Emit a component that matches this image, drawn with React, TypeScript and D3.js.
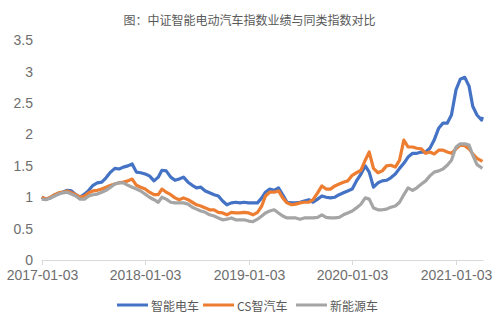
import React from "react";
import * as d3 from "d3";

const dates: string[] = [
  "2017-01-03","2017-01-18","2017-02-03","2017-02-18","2017-03-03","2017-03-18","2017-04-03","2017-04-18","2017-05-03","2017-05-18","2017-06-03","2017-06-18",
  "2017-07-03","2017-07-18","2017-08-03","2017-08-18","2017-09-03","2017-09-18","2017-10-03","2017-10-18","2017-11-03","2017-11-18","2017-12-03","2017-12-18",
  "2018-01-03","2018-01-18","2018-02-03","2018-02-18","2018-03-03","2018-03-18","2018-04-03","2018-04-18","2018-05-03","2018-05-18","2018-06-03","2018-06-18",
  "2018-07-03","2018-07-18","2018-08-03","2018-08-18","2018-09-03","2018-09-18","2018-10-03","2018-10-18","2018-11-03","2018-11-18","2018-12-03","2018-12-18",
  "2019-01-03","2019-01-18","2019-02-03","2019-02-18","2019-03-03","2019-03-18","2019-04-03","2019-04-18","2019-05-03","2019-05-18","2019-06-03","2019-06-18",
  "2019-07-03","2019-07-18","2019-08-03","2019-08-18","2019-09-03","2019-09-18","2019-10-03","2019-10-18","2019-11-03","2019-11-18","2019-12-03","2019-12-18",
  "2020-01-03","2020-01-18","2020-02-03","2020-02-18","2020-03-03","2020-03-18","2020-04-03","2020-04-18","2020-05-03","2020-05-18","2020-06-03","2020-06-18",
  "2020-07-03","2020-07-18","2020-08-03","2020-08-18","2020-09-03","2020-09-18","2020-10-03","2020-10-18","2020-11-03","2020-11-18","2020-12-03","2020-12-18",
  "2021-01-03","2021-01-18","2021-02-03","2021-02-18","2021-03-03","2021-03-18","2021-04-03","2021-04-06",
];

// 智能电车
const smartEV: number[] = [
  1.00,0.97,0.99,1.04,1.05,1.08,1.11,1.10,1.04,1.00,1.05,1.11,1.19,1.23,1.24,1.31,1.40,1.46,1.45,1.48,1.50,1.53,1.40,1.39,
  1.37,1.34,1.26,1.32,1.43,1.42,1.32,1.27,1.29,1.32,1.24,1.19,1.15,1.16,1.10,1.07,1.04,1.02,0.94,0.88,0.91,0.92,0.91,0.92,
  0.91,0.91,0.91,0.99,1.08,1.13,1.11,1.15,1.04,0.92,0.91,0.91,0.92,0.94,0.96,0.92,0.97,1.02,1.00,0.99,1.00,1.04,1.07,1.10,
  1.13,1.26,1.37,1.50,1.40,1.16,1.23,1.26,1.27,1.31,1.37,1.46,1.54,1.64,1.70,1.70,1.72,1.72,1.78,1.91,2.10,2.18,2.18,2.31,
  2.71,2.88,2.91,2.77,2.45,2.31,2.23,2.28,
];

// CS智汽车
const csSmartCar: number[] = [
  1.00,0.97,1.00,1.04,1.07,1.08,1.10,1.07,1.04,1.00,1.02,1.07,1.10,1.11,1.13,1.16,1.19,1.21,1.23,1.24,1.26,1.29,1.19,1.16,
  1.13,1.08,1.04,1.04,1.13,1.08,1.04,0.99,0.96,0.99,0.96,0.92,0.88,0.86,0.83,0.80,0.80,0.76,0.75,0.72,0.76,0.75,0.75,0.76,
  0.75,0.72,0.76,0.86,1.02,1.08,1.08,1.10,0.99,0.91,0.88,0.89,0.91,0.92,0.92,0.96,1.07,1.18,1.13,1.13,1.18,1.21,1.24,1.26,
  1.35,1.39,1.43,1.59,1.72,1.46,1.39,1.42,1.50,1.51,1.48,1.59,1.91,1.80,1.80,1.78,1.77,1.70,1.72,1.69,1.75,1.75,1.72,1.70,
  1.77,1.83,1.82,1.77,1.69,1.62,1.58,1.57,
];

// 新能源车
const newEnergy: number[] = [
  0.97,0.96,0.99,1.02,1.05,1.07,1.08,1.05,1.02,0.97,0.97,1.02,1.04,1.05,1.08,1.11,1.16,1.21,1.23,1.23,1.19,1.16,1.13,1.10,
  1.05,1.00,0.96,0.92,1.00,0.97,0.92,0.91,0.91,0.91,0.89,0.84,0.81,0.78,0.76,0.72,0.70,0.67,0.64,0.65,0.67,0.64,0.64,0.64,
  0.62,0.61,0.65,0.70,0.75,0.78,0.80,0.75,0.70,0.67,0.67,0.67,0.65,0.67,0.67,0.67,0.68,0.72,0.68,0.67,0.67,0.68,0.72,0.75,
  0.78,0.83,0.89,0.99,0.97,0.83,0.80,0.80,0.81,0.84,0.86,0.92,1.04,1.15,1.11,1.15,1.21,1.26,1.34,1.40,1.42,1.45,1.51,1.59,
  1.80,1.85,1.85,1.83,1.67,1.52,1.47,1.46,
];

const yTicks: number[] = [0, 0.5, 1, 1.5, 2, 2.5, 3, 3.5];
const xTickLabels: string[] = ["2017-01-03", "2018-01-03", "2019-01-03", "2020-01-03", "2021-01-03"];
const seriesNames: string[] = ["智能电车", "CS智汽车", "新能源车"];
const seriesColors: string[] = ["#4472C4", "#ED7D31", "#A5A5A5"];
const title = "图：中证智能电动汽车指数业绩与同类指数对比";

const W = 499;
const H = 316;

export default function App() {
  const parse = d3.timeParse("%Y-%m-%d");
  const dts = dates.map((d) => parse(d) as Date);
  const x = d3
    .scaleTime()
    .domain([parse("2017-01-03") as Date, parse("2021-01-03") as Date])
    .range([41.7, 456]);
  const y = d3.scaleLinear().domain([0, 3.5]).range([260, 40.3]);
  const line = d3
    .line<number>()
    .x((_, i) => x(dts[i]))
    .y((v) => y(v))
    .curve(d3.curveLinear);
  const series = [smartEV, csSmartCar, newEnergy];
  const axisEnd = x(dts[dts.length - 1]) + 1;
  const font = "'Liberation Sans', Arial, sans-serif";
  const cjk = "'Noto Sans CJK SC', 'Noto Sans', sans-serif";

  const legendX = [117, 203, 296];

  return (
    <svg
      width={W}
      height={H}
      style={{ position: "absolute", left: 0, top: 0, background: "#fff" }}
    >
      <text x={249.5} y={19} textAnchor="middle" dominantBaseline="central" fontSize={12} fill="#595959" fontFamily={cjk}>
        {title}
      </text>
      {yTicks.map((t) => (
        <text key={t} x={33} y={y(t)} textAnchor="end" dominantBaseline="central" fontSize={14} fill="#6e6e6e" fontFamily={font}>
          {t}
        </text>
      ))}
      <line x1={x(dts[0])} x2={axisEnd} y1={260.5} y2={260.5} stroke="#d9d9d9" strokeWidth={1} />
      {xTickLabels.map((l) => {
        const px = Math.round(x(parse(l) as Date)) + 0.5;
        return (
          <g key={l}>
            <line x1={px} x2={px} y1={260} y2={265} stroke="#d9d9d9" strokeWidth={1} />
            <text x={px} y={275} textAnchor="middle" dominantBaseline="central" fontSize={14} fill="#6e6e6e" fontFamily={font}>
              {l}
            </text>
          </g>
        );
      })}
      {series.map((s, i) => (
        <path key={i} d={line(s) || ""} fill="none" stroke={seriesColors[i]} strokeWidth={3.2} strokeLinejoin="round" />
      ))}
      {seriesNames.map((n, i) => (
        <g key={n}>
          <line x1={legendX[i]} x2={legendX[i] + 31} y1={305} y2={305} stroke={seriesColors[i]} strokeWidth={3} />
          <text x={legendX[i] + 34} y={305} dominantBaseline="central" fontSize={12} fill="#595959" fontFamily={cjk}>
            {n}
          </text>
        </g>
      ))}
    </svg>
  );
}
